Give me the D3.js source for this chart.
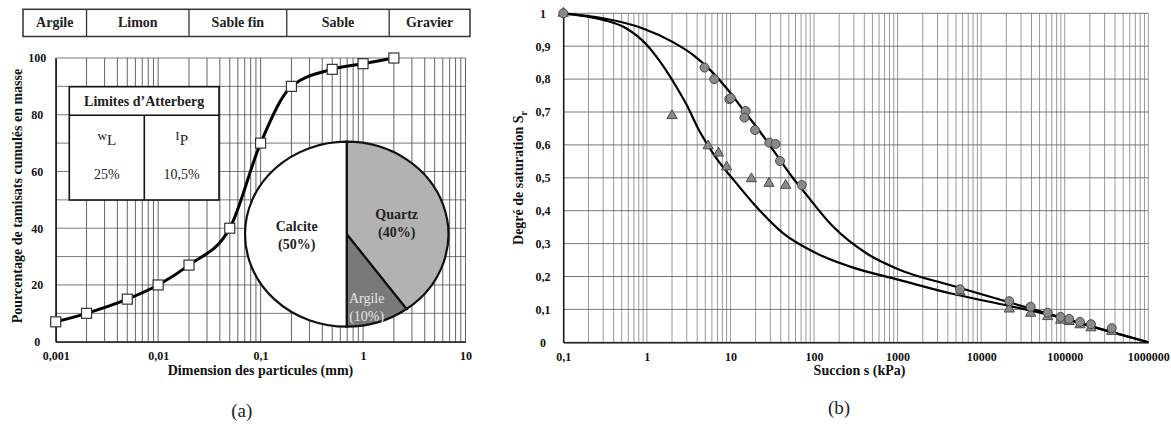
<!DOCTYPE html>
<html><head><meta charset="utf-8">
<script src="https://cdn.jsdelivr.net/npm/d3@7"></script>
<style>
html,body{margin:0;padding:0;background:#fff;}
svg text{font-family:"Liberation Serif","Times New Roman",serif;}
</style></head>
<body>
<svg id="c" width="1171" height="425"></svg>
<script>
// ---------- DATA ----------
// (a) Granulometric curve
const grainSize = [0.001, 0.002, 0.005, 0.01, 0.02, 0.05, 0.1, 0.2, 0.5, 1, 2];
const passingPct = [7, 10, 15, 20, 27, 40, 70, 90, 96, 98, 100];
const xTicksA = [0.001, 0.01, 0.1, 1, 10];
const yTicksA = [0, 20, 40, 60, 80, 100];
const classNames = ["Argile", "Limon", "Sable fin", "Sable", "Gravier"];
const classBounds = [0.002, 0.02, 0.18, 1.8];
const mineralNames = ["Quartz", "Argile", "Calcite"];
const mineralPct = [40, 10, 50];
const atterbergSymbols = [["w","L"], ["I","P"]];
const atterbergValues = ["25%", "10,5%"];

// (b) Water retention
const circleS  = [0.1, 4.9, 6.4, 9.7, 10.1, 15.2, 14.7, 19.7, 29.2, 34.7, 39.2, 71.3, 5580, 21700, 39100, 62500, 89300, 113000, 152000, 206000, 365000];
const circleSr = [1.0, 0.835, 0.80, 0.739, 0.742, 0.703, 0.683, 0.645, 0.607, 0.603, 0.551, 0.478, 0.161, 0.125, 0.108, 0.090, 0.077, 0.071, 0.062, 0.055, 0.043];
const triS  = [0.1, 2.0, 5.4, 7.2, 9.0, 17.8, 28.9, 45.8, 5580, 21700, 39100, 62500, 89300, 113000, 152000, 206000, 365000];
const triSr = [1.0, 0.689, 0.597, 0.575, 0.533, 0.497, 0.483, 0.477, 0.153, 0.101, 0.088, 0.078, 0.067, 0.063, 0.053, 0.044, 0.033];
const curveUpS  = [0.1, 0.3, 0.9, 2, 3.6, 5.7, 9, 14.3, 22.6, 35.8, 56.5, 68, 170, 427, 1070, 4240, 22100, 100000, 300000, 1000000];
const curveUpSr = [1, 0.985, 0.954, 0.914, 0.873, 0.828, 0.772, 0.706, 0.640, 0.569, 0.498, 0.473, 0.351, 0.270, 0.220, 0.174, 0.121, 0.072, 0.037, 0];
const curveLoS  = [0.1, 0.3, 0.57, 1.0, 1.44, 2.07, 3.0, 4.3, 6.8, 10.8, 18.8, 42.9, 108, 270, 1070, 4240, 22100, 100000, 300000, 1000000];
const curveLoSr = [1, 0.980, 0.954, 0.904, 0.853, 0.792, 0.721, 0.640, 0.559, 0.495, 0.422, 0.331, 0.270, 0.230, 0.189, 0.149, 0.110, 0.072, 0.037, 0];
const xTicksB = [0.1, 1, 10, 100, 1000, 10000, 100000, 1000000];
const yTicksB = [0, 0.1, 0.2, 0.3, 0.4, 0.5, 0.6, 0.7, 0.8, 0.9, 1];

// ---------- HELPERS ----------
const svg = d3.select("#c");
const fmt = v => String(+v.toFixed(6)).replace(".", ",");

// ================= CHART (a) =================
const xA = d3.scaleLog().domain([0.001, 10]).range([55.7, 465.5]);
const yA = d3.scaleLinear().domain([0, 100]).range([341.7, 58]);
const gA = svg.append("g");

// grid
gA.selectAll("line.hg").data(d3.range(0, 101, 10)).join("line")
  .attr("x1", xA.range()[0]).attr("x2", xA.range()[1])
  .attr("y1", d => yA(d)).attr("y2", d => yA(d))
  .attr("stroke", "#7a7a7a").attr("stroke-width", 1);
gA.selectAll("line.vg").data(xA.ticks()).join("line")
  .attr("x1", d => xA(d)).attr("x2", d => xA(d))
  .attr("y1", yA(0)).attr("y2", yA(100))
  .attr("stroke", "#555").attr("stroke-width", 0.9);

// axes
const axA = gA.append("g").attr("transform", `translate(0,${yA(0)})`)
  .call(d3.axisBottom(xA).tickValues(xTicksA).tickFormat(fmt).tickSize(0).tickPadding(10));
const ayA = gA.append("g").attr("transform", `translate(${xA.range()[0]},0)`)
  .call(d3.axisLeft(yA).tickValues(yTicksA).tickFormat(fmt).tickSize(0).tickPadding(8));
[axA, ayA].forEach(a => {
  a.select(".domain").attr("stroke", "#000").attr("stroke-width", 1.3);
  a.selectAll("text").attr("font-family", "Liberation Serif").attr("font-weight", "bold")
   .attr("font-size", 12).attr("fill", "#111");
});
ayA.selectAll("text").attr("text-anchor", "middle").attr("x", -18.5);

// pie
const pieCx = 346.7, pieCy = 234.2, pieR = 92.5, pieSx = 101.7 / 92.5;
const pieG = gA.append("g").attr("transform", `translate(${pieCx},${pieCy}) scale(${pieSx},1)`);
const pieData = d3.pie().sort(null)(mineralPct);
const arc = d3.arc().innerRadius(0).outerRadius(pieR);
const pieFill = ["#b2b2b2", "#797979", "#ffffff"];
pieG.selectAll("path").data(pieData).join("path")
  .attr("d", arc).attr("fill", (d, i) => pieFill[i])
  .attr("stroke", "#111").attr("stroke-width", 2.2).attr("vector-effect", "non-scaling-stroke");
const pieLabelOff = [[50, -20], [20, 64], [-50, -8]];
mineralNames.forEach((n, i) => {
  const [dx, dy] = pieLabelOff[i];
  const t = gA.append("text").attr("text-anchor", "middle")
    .attr("font-size", 14).attr("font-weight", i === 1 ? "normal" : "bold")
    .attr("fill", i === 1 ? "#e6e6e6" : "#222");
  t.append("tspan").attr("x", pieCx + dx).attr("y", pieCy + dy + 5).text(n);
  t.append("tspan").attr("x", pieCx + dx).attr("y", pieCy + dy + 23).text(`(${mineralPct[i]}%)`);
});

// curve
gA.append("path")
  .attr("d", d3.line().x((d, i) => xA(grainSize[i])).y(d => yA(d)).curve(d3.curveMonotoneX)(passingPct))
  .attr("fill", "none").attr("stroke", "#000").attr("stroke-width", 3);
gA.selectAll("rect.m").data(passingPct).join("rect")
  .attr("x", (d, i) => xA(grainSize[i]) - 5).attr("y", d => yA(d) - 5)
  .attr("width", 10).attr("height", 10)
  .attr("fill", "#fff").attr("stroke", "#333").attr("stroke-width", 1.2);

// Atterberg table
const tb = {x0: 69.3, x1: 219, y0: 86.7, ym: 115.3, y1: 200, xm: 144.3};
gA.append("rect").attr("x", tb.x0).attr("y", tb.y0).attr("width", tb.x1 - tb.x0).attr("height", tb.y1 - tb.y0)
  .attr("fill", "#fff").attr("stroke", "#111").attr("stroke-width", 1.6);
gA.append("line").attr("x1", tb.x0).attr("x2", tb.x1).attr("y1", tb.ym).attr("y2", tb.ym).attr("stroke", "#111").attr("stroke-width", 1.6);
gA.append("line").attr("x1", tb.xm).attr("x2", tb.xm).attr("y1", tb.ym).attr("y2", tb.y1).attr("stroke", "#111").attr("stroke-width", 1.6);
gA.append("text").attr("x", (tb.x0 + tb.x1) / 2).attr("y", 106).attr("text-anchor", "middle")
  .attr("font-size", 14).attr("font-weight", "bold").attr("fill", "#222").text("Limites d\u2019Atterberg");
const colCx = [(tb.x0 + tb.xm) / 2, (tb.xm + tb.x1) / 2];
atterbergSymbols.forEach((s, i) => {
  const t = gA.append("text").attr("x", colCx[i]).attr("y", 140).attr("text-anchor", "middle")
    .attr("font-size", 14).attr("fill", "#222");
  t.append("tspan").attr("font-size", 13).text(s[0]);
  t.append("tspan").attr("dy", 5).attr("font-size", 15).text(s[1]);
  gA.append("text").attr("x", colCx[i]).attr("y", 179).attr("text-anchor", "middle")
    .attr("font-size", 14).attr("fill", "#222").text(atterbergValues[i]);
});

// header class table
const hd = {x0: 23, x1: 470, y0: 9.3, y1: 36.5};
const edges = [hd.x0, ...classBounds.map(b => xA(b)), hd.x1];
gA.append("rect").attr("x", hd.x0).attr("y", hd.y0).attr("width", hd.x1 - hd.x0).attr("height", hd.y1 - hd.y0)
  .attr("fill", "#fff").attr("stroke", "#333").attr("stroke-width", 1.5);
gA.selectAll("line.hb").data(classBounds).join("line")
  .attr("x1", d => xA(d)).attr("x2", d => xA(d)).attr("y1", hd.y0).attr("y2", hd.y1)
  .attr("stroke", "#333").attr("stroke-width", 1.3);
gA.selectAll("text.hc").data(classNames).join("text")
  .attr("x", (d, i) => (edges[i] + edges[i + 1]) / 2).attr("y", 27)
  .attr("text-anchor", "middle").attr("font-size", 14).attr("font-weight", "bold").attr("fill", "#222")
  .text(d => d);

// titles
gA.append("text").attr("x", 260.5).attr("y", 375).attr("text-anchor", "middle")
  .attr("font-size", 14).attr("font-weight", "bold").attr("fill", "#111").text("Dimension des particules (mm)");
gA.append("text").attr("transform", "translate(22,196) rotate(-90)").attr("text-anchor", "middle")
  .attr("font-size", 14).attr("font-weight", "bold").attr("fill", "#111").text("Pourcentage de tamisats cumulés en masse");
gA.append("text").attr("x", 241.7).attr("y", 417).attr("text-anchor", "middle")
  .attr("font-size", 19).attr("fill", "#222").text("(a)");

// ================= CHART (b) =================
const xB = d3.scaleLog().domain([0.1, 1e6]).range([563.3, 1148.3]);
const yB = d3.scaleLinear().domain([0, 1]).range([342.3, 13.3]);
const gB = svg.append("g");

gB.selectAll("line.vg").data(xB.ticks()).join("line")
  .attr("x1", d => xB(d)).attr("x2", d => xB(d)).attr("y1", yB(0)).attr("y2", yB(1))
  .attr("stroke", "#999").attr("stroke-width", 1);
gB.selectAll("line.hg").data(yTicksB).join("line")
  .attr("x1", xB.range()[0]).attr("x2", xB.range()[1]).attr("y1", d => yB(d)).attr("y2", d => yB(d))
  .attr("stroke", "#777").attr("stroke-width", 1);

const axB = gB.append("g").attr("transform", `translate(0,${yB(0)})`)
  .call(d3.axisBottom(xB).tickValues(xTicksB).tickFormat(fmt).tickSize(0).tickPadding(10));
const ayB = gB.append("g").attr("transform", `translate(${xB.range()[0]},0)`)
  .call(d3.axisLeft(yB).tickValues(yTicksB).tickFormat(fmt).tickSize(0).tickPadding(4));
[axB, ayB].forEach(a => {
  a.select(".domain").attr("stroke", "#000").attr("stroke-width", 1.3);
  a.selectAll("text").attr("font-family", "Liberation Serif").attr("font-weight", "bold")
   .attr("font-size", 12).attr("fill", "#111");
});
ayB.selectAll("text").attr("text-anchor", "middle").attr("x", -20.3);

const lineB = d3.line().curve(d3.curveMonotoneX);
gB.append("path")
  .attr("d", lineB(curveLoS.map((s, i) => [xB(s), yB(curveLoSr[i])])))
  .attr("fill", "none").attr("stroke", "#000").attr("stroke-width", 2.2);
gB.append("path")
  .attr("d", lineB(curveUpS.map((s, i) => [xB(s), yB(curveUpSr[i])])))
  .attr("fill", "none").attr("stroke", "#000").attr("stroke-width", 2.2);

const tri = d3.symbol().type(d3.symbolTriangle).size(45);
gB.selectAll("path.tri").data(triSr).join("path")
  .attr("d", tri).attr("transform", (d, i) => `translate(${xB(triS[i])},${yB(d)})`)
  .attr("fill", "#8a8a8a").attr("stroke", "#4a4a4a").attr("stroke-width", 1);
gB.selectAll("circle.pt").data(circleSr).join("circle")
  .attr("cx", (d, i) => xB(circleS[i])).attr("cy", d => yB(d)).attr("r", 4.5)
  .attr("fill", "#8a8a8a").attr("stroke", "#4a4a4a").attr("stroke-width", 1);

gB.append("text").attr("x", 859.5).attr("y", 375).attr("text-anchor", "middle")
  .attr("font-size", 14).attr("font-weight", "bold").attr("fill", "#111").text("Succion s (kPa)");
const yt = gB.append("text").attr("transform", "translate(523,178) rotate(-90)").attr("text-anchor", "middle")
  .attr("font-size", 14).attr("font-weight", "bold").attr("fill", "#111");
yt.append("tspan").text("Degré de saturation S");
yt.append("tspan").attr("dy", 4).attr("font-size", 10).text("r");
gB.append("text").attr("x", 839).attr("y", 414).attr("text-anchor", "middle")
  .attr("font-size", 19).attr("fill", "#222").text("(b)");
</script>
</body></html>
